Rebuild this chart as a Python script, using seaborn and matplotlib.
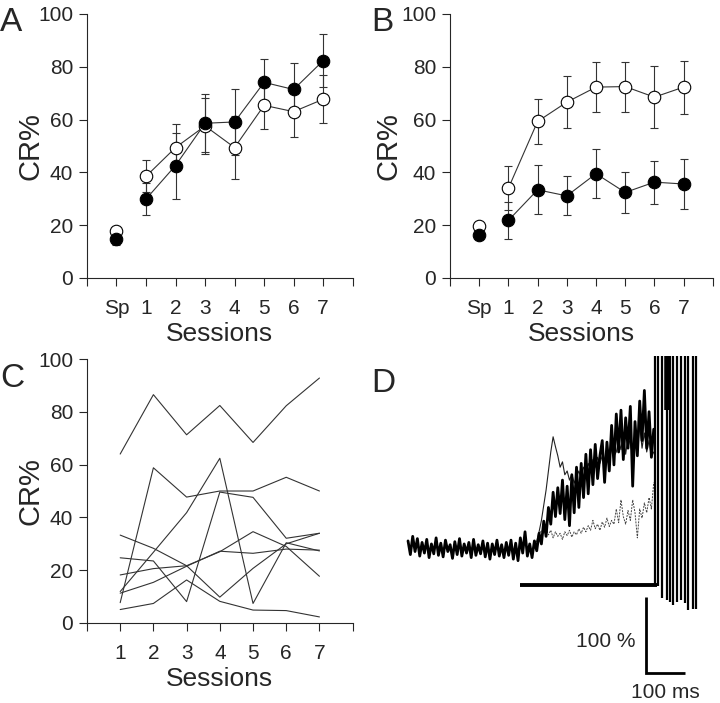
import matplotlib
matplotlib.use("Agg")
import matplotlib.pyplot as plt
import numpy as np
import pandas as pd
import seaborn as sns

# ---- panel A / B: mean CR% per session (Sp = spontaneous) ----
session_pos = [0, 1, 2, 3, 4, 5, 6, 7]
session_ticks = [-1, 0, 1, 2, 3, 4, 5, 6, 7, 8]
session_labels = ["", "Sp", "1", "2", "3", "4", "5", "6", "7", ""]

a_filled = [14.8, 29.9, 42.6, 58.6, 59.1, 74.1, 71.4, 82.3]
a_filled_err = [2.5, 6.0, 12.5, 11.0, 12.5, 9.0, 10.0, 10.0]
a_open = [17.9, 38.5, 49.4, 57.6, 49.4, 65.4, 63.0, 67.7]
a_open_err = [0.0, 6.0, 9.0, 10.5, 12.0, 9.0, 9.5, 9.0]

b_filled = [16.3, 21.8, 33.4, 31.1, 39.5, 32.4, 36.3, 35.6]
b_filled_err = [0.0, 7.0, 9.3, 7.4, 9.2, 7.8, 8.1, 9.5]
b_open = [19.5, 34.0, 59.3, 66.6, 72.3, 72.5, 68.5, 72.3]
b_open_err = [0.0, 8.3, 8.5, 9.8, 9.5, 9.5, 11.7, 10.0]

# ---- panel C: individual animals ----
c_sessions = [1, 2, 3, 4, 5, 6, 7]
c_animals = {
    "a1": [64.0, 86.5, 71.3, 82.4, 68.4, 82.3, 92.8],
    "a2": [7.7, 58.8, 47.7, 50.0, 50.0, 55.2, 50.0],
    "a3": [11.9, 26.8, 41.8, 62.4, 7.4, 30.4, 27.3],
    "a4": [33.3, 28.3, 21.7, 9.8, 20.7, 30.0, 34.0],
    "a5": [24.7, 23.5, 8.1, 49.6, 47.6, 32.1, 34.0],
    "a6": [18.2, 20.6, 21.7, 27.0, 34.6, 29.0, 17.7],
    "a7": [11.3, 15.4, 21.5, 27.2, 26.4, 28.0, 27.6],
    "a8": [5.1, 7.4, 16.3, 8.2, 4.9, 4.7, 2.3],
}

# ---- panel D: example EMG traces (ms, % of baseline) ----
thick_t = list(range(0, 636, 6))
thick_v = [8, -10, 14, -6, 11, -12, 6, -8, 10, -14, 4, -9, 12, -11, 5, -13, 9, -6, 3, -15,
           7, -10, 11, -12, 4, -8, 6, -14, 10, -11, 3, -9, 8, -13, 5, -16, 4, -10, 9, -12,
           3, -14, 6, -11, 9, -16, 5, -18, 12, -8,
           20, -12, 4, -14, 8, -5, 18, 4, 34, 14, 52, 30, 72, 40, 78, 44, 88, 36, 80, 28,
           95, 45, 105, 52, 110, 65, 122, 70, 128, 82, 135, 90, 120, 140, 85, 138, 100, 160,
           108, 175, 125, 180, 115, 170, 130, 185, 80, 165, 120, 192, 140, 206, 130, 178,
           118, 155]
thin_t = list(range(324, 636, 6))
thin_v = [2, 8, 20, 35, 55, 75, 100, 125, 145, 132, 120, 105, 112, 95, 100, 88, 96, 84,
          92, 100, 90, 105, 98, 110, 102, 115, 105, 118, 110, 120, 112, 125, 115, 130, 120,
          125, 140, 128, 150, 122, 145, 135, 120, 150, 128, 160, 130, 150, 125, 140, 118, 125]
dash_t = list(range(336, 636, 6))
dash_v = [15, 22, 18, 25, 16, 22, 12, 20, 14, 18, 10, 20, 15, 22, 13, 20, 16, 24, 18, 26,
          20, 28, 22, 35, 24, 30, 22, 33, 26, 38, 27, 35, 30, 50, 32, 62, 40, 30, 48, 35,
          62, 45, 12, 50, 38, 58, 45, 65, 50, 85]
us_t = [633, 642, 650, 663, 672, 680, 690, 699, 710, 719, 730, 738]
us_bottom = [-50, -52, -67, -70, -72, -76, -72, -70, -74, -83, -82, -82]
us_top = 251

sns.set_style("ticks")
plt.rcParams["font.family"] = ["Liberation Sans", "DejaVu Sans"]
plt.rcParams["axes.linewidth"] = 0.8

fig = plt.figure(figsize=(7.2, 7.03), dpi=100)
ax_a = fig.add_axes([0.1208, 0.6046, 0.369, 0.3755])
ax_b = fig.add_axes([0.625, 0.6046, 0.365, 0.3755])
ax_c = fig.add_axes([0.1208, 0.1138, 0.369, 0.3755])
ax_d = fig.add_axes([0.5556, 0.0, 0.4236, 0.5164])


def mean_panel(ax, filled, filled_err, opened, opened_err):
    for vals, errs, face in [(opened, opened_err, "white"), (filled, filled_err, "black")]:
        ax.errorbar(session_pos, vals, yerr=errs, fmt="none", ecolor="#333333",
                    elinewidth=0.8, capsize=3, capthick=0.8, zorder=2)
        sns.lineplot(x=session_pos[1:], y=vals[1:], ax=ax, color="#333333", linewidth=0.8,
                     zorder=3)
        ax.plot(session_pos, vals, linestyle="none", marker="o", markersize=9,
                markerfacecolor=face, markeredgecolor="black", markeredgewidth=0.8, zorder=4)


def style_sessions(ax, ticks, labels, lims, label_x):
    ax.set_xlim(*lims)
    ax.set_ylim(0, 100)
    ax.set_xticks(ticks)
    ax.set_xticklabels(labels)
    ax.set_yticks([0, 20, 40, 60, 80, 100])
    ax.tick_params(labelsize=15, length=6, width=0.8)
    ax.tick_params(axis="x", pad=9)
    ax.tick_params(axis="y", pad=4)
    ax.set_ylabel("CR%", fontsize=21)
    ax.yaxis.set_label_coords(label_x, 0.5)
    ax.set_xlabel("Sessions", fontsize=19, labelpad=3)
    sns.despine(ax=ax)


mean_panel(ax_a, a_filled, a_filled_err, a_open, a_open_err)
style_sessions(ax_a, session_ticks, session_labels, (-1, 8), -0.158)
mean_panel(ax_b, b_filled, b_filled_err, b_open, b_open_err)
style_sessions(ax_b, session_ticks, session_labels, (-1, 8), -0.179)

long_c = pd.DataFrame([(name, s, v) for name, vals in c_animals.items()
                       for s, v in zip(c_sessions, vals)],
                      columns=["animal", "session", "cr"])
sns.lineplot(data=long_c, x="session", y="cr", units="animal", estimator=None,
             color="#333333", linewidth=0.8, ax=ax_c)
style_sessions(ax_c, list(range(0, 9)), [""] + [str(s) for s in c_sessions] + [""], (0, 8),
               -0.158)

# panel D
ax_d.set_xlim(-20.5, 761.5)
ax_d.set_ylim(-205.3, 272.4)
ax_d.axis("off")
ax_d.plot(dash_t, dash_v, color="#444444", linewidth=0.7, linestyle=(0, (2, 1.2)))
ax_d.plot(thin_t, thin_v, color="#222222", linewidth=0.8)
ax_d.plot(thick_t, thick_v, color="black", linewidth=2.0)
ax_d.vlines(us_t, us_bottom, us_top, color="black", linewidth=1.6)
ax_d.vlines([665], [180], [us_top], color="black", linewidth=4)
ax_d.plot([287, 638], [-50, -50], color="black", linewidth=2.8, solid_capstyle="butt")
ax_d.plot([610, 610, 710], [-65.8, -165.8, -165.8], color="black", linewidth=2,
          solid_capstyle="butt", solid_joinstyle="miter")
ax_d.text(582, -125, "100 %", fontsize=15, ha="right", va="center")
ax_d.text(660, -192, "100 ms", fontsize=15, ha="center", va="center")

for label, x, y in [("A", 0.0, 0.99), ("B", 0.516, 0.99), ("C", 0.0, 0.483), ("D", 0.516, 0.477)]:
    fig.text(x, y, label, fontsize=24, ha="left", va="top")

fig.savefig("out.png", dpi=100)
